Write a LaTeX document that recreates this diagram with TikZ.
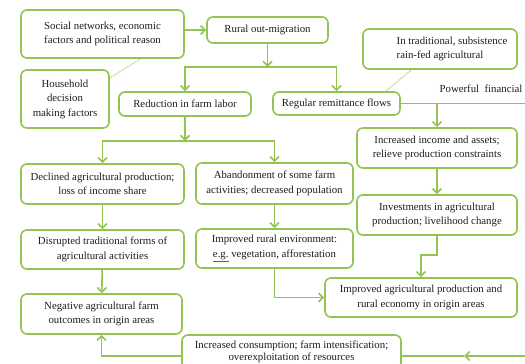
\documentclass[tikz,border=0pt]{standalone}
\usepackage{fontspec}
\setmainfont{Liberation Serif}
\usetikzlibrary{arrows.meta}
\definecolor{leaf}{RGB}{146,196,82}
\definecolor{ink}{RGB}{30,30,30}

\begin{document}
\begin{tikzpicture}[x=1pt,y=-1pt,>={Straight Barb[length=4.5pt,width=9pt]},
    box/.style={draw=leaf,line width=1.6pt,rounded corners=6pt,align=center,inner sep=0pt,
        text=ink,font=\fontsize{10.8}{14.5}\selectfont},
    arr/.style={->,draw=leaf,line width=1.6pt},
    link/.style={draw=leaf,line width=1.6pt},
    hint/.style={draw=leaf,line width=0.9pt,densely dotted}]
        \clip (0,0) rectangle (525,364);
        \fill[white] (0,0) rectangle (525,364);
        % top row
        \node[box,minimum width=163pt,minimum height=48pt] (soc) at (102.5,34) {Social networks, economic\\factors and political reason};
        \node[box,minimum width=88pt,minimum height=58pt] (house) at (65,99) {Household\\decision\\making factors};
        \node[box,minimum width=121pt,minimum height=26pt] (rural) at (267.5,30) {Rural out-migration};
        \node[box,minimum width=154pt,minimum height=40pt,align=left] (trad) at (440,49) {\hspace*{24pt}In traditional, subsistence\\\hspace*{24pt}rain-fed agricultural};
        \node[box,minimum width=132pt,minimum height=24pt] (red) at (185,104) {Reduction in farm labor};
        \node[box,minimum width=127pt,minimum height=23pt] (remit) at (336.5,103.5) {Regular remittance flows};
        \node[text=ink,font=\fontsize{10.8}{12}\selectfont] (fintxt) at (481,89) {Powerful\ \ financial};
        % left column
        \node[box,minimum width=163pt,minimum height=40pt] (decl) at (102.5,184) {Declined agricultural production;\\loss of income share};
        \node[box,minimum width=163pt,minimum height=39pt] (disr) at (102.5,249.5) {Disrupted traditional forms of\\agricultural activities};
        \node[box,minimum width=161pt,minimum height=40pt] (neg) at (101.5,314) {Negative agricultural farm\\outcomes in origin areas};
        % middle column
        \node[box,minimum width=157pt,minimum height=41pt] (aband) at (274.5,183.5) {Abandonment of some farm\\activities; decreased population};
        \node[box,minimum width=157pt,minimum height=39pt] (env) at (274.5,248.5) {Improved rural environment:\\{\color{blue!70}\underline{\color{ink}e.g.}} vegetation, afforestation};
        % right column
        \node[box,minimum width=160pt,minimum height=40pt] (income) at (437,148) {Increased income and assets;\\relieve production constraints};
        \node[box,minimum width=160pt,minimum height=40pt] (invest) at (437,215) {Investments in agricultural\\production; livelihood change};
        \node[box,minimum width=192pt,minimum height=39pt] (impr) at (421,297.5) {Improved agricultural production and\\rural economy in origin areas};
        \node[box,minimum width=219pt,minimum height=34pt,font=\fontsize{10.8}{12}\selectfont] (cons) at (291.5,352) {Increased consumption; farm intensification;\\overexploitation of resources};
        % junctions
        \coordinate (split1) at (267.5,67);
        \coordinate (split2) at (185,141);
        \coordinate (bend) at (421,255);
        \coordinate (finR) at (525,103.5);
        \coordinate (consR) at (525,356);
        \coordinate (consM) at (464,356);
        % connectors
        \draw[arr] (soc.east |- rural.west) -- (rural.west);
        \draw[arr] (rural) -- (split1);
        \draw[arr] (split1) -| (red);
        \draw[arr] (split1) -| (remit);
        \draw[arr] (red) -- (split2);
        \draw[arr] (split2) -| (decl);
        \draw[arr] (split2) -| (aband);
        \draw[link] (remit.east) -- (finR);
        \draw[arr] (income |- remit.east) -- (income);
        \draw[arr] (income) -- (invest);
        \draw[arr] (invest) |- (bend) -- (impr);
        \draw[arr] (decl) -- (disr);
        \draw[arr] (disr) -- (neg);
        \draw[arr] (aband) -- (env);
        \draw[arr] (env) |- (impr);
        \draw[arr] (consR) -- (consM);
        \draw[link] (consM) -- (cons.east |- consM);
        \draw[arr] (cons.west |- consM) -| (neg);
        \draw[hint] (house.25) -- (soc.-33);
        \draw[hint] (remit.14) -- (trad.216);
    \end{tikzpicture}
\end{document}
